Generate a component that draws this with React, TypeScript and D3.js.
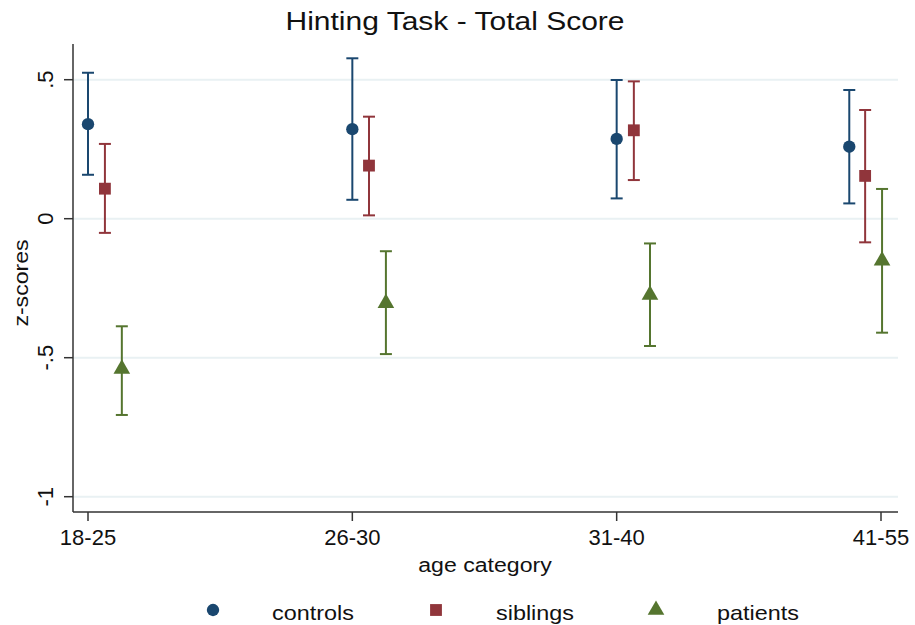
import React from "react";
import * as d3 from "d3";

const categories = ["18-25", "26-30", "31-40", "41-55"];
const seriesNames = ["controls", "siblings", "patients"];
// x positions in category units (1..4)
const controlsX = [1.0, 2.0, 3.0, 3.88];
const siblingsX = [1.064, 2.063, 3.065, 3.94];
const patientsX = [1.128, 2.127, 3.126, 4.004];
const controlsMean = [0.34, 0.322, 0.287, 0.259];
const controlsLo = [0.158, 0.068, 0.073, 0.055];
const controlsHi = [0.525, 0.577, 0.499, 0.463];
const siblingsMean = [0.108, 0.191, 0.318, 0.154];
const siblingsLo = [-0.051, 0.012, 0.139, -0.085];
const siblingsHi = [0.269, 0.367, 0.494, 0.391];
const patientsMean = [-0.54, -0.304, -0.274, -0.151];
const patientsLo = [-0.706, -0.487, -0.458, -0.41];
const patientsHi = [-0.387, -0.117, -0.089, 0.107];
const yTicks = [0.5, 0, -0.5, -1];
const yTickLabels = [".5", "0", "-.5", "-1"];

const colors = ["#1a476f", "#90353b", "#55752f"];
const FONT = "Liberation Sans, Arial, Helvetica, sans-serif";

function T({ x, y, size, sx = 1, rot = 0, anchor = "start", children }: any) {
  return (
    <text
      transform={`translate(${x},${y}) rotate(${rot}) scale(${sx},1)`}
      textAnchor={anchor}
      fontSize={size}
      fill="#111"
    >
      {children}
    </text>
  );
}

export default function App() {
  const W = 915, H = 625;
  const x = d3.scaleLinear().domain([1, 4]).range([88, 881]);
  const y = d3.scaleLinear().domain([0, 0.5]).range([218.7, 79.7]);
  const left = 73, right = 898, top = 44, bottom = 512;

  const series = [
    { xs: controlsX, m: controlsMean, lo: controlsLo, hi: controlsHi },
    { xs: siblingsX, m: siblingsMean, lo: siblingsLo, hi: siblingsHi },
    { xs: patientsX, m: patientsMean, lo: patientsLo, hi: patientsHi },
  ];
  const sym = [d3.symbolCircle, d3.symbolSquare, d3.symbolTriangle];
  const symSize = [120, 140, 120];

  const legendItems = [
    { mx: 213, tx: 272 },
    { mx: 436, tx: 496 },
    { mx: 656, tx: 717 },
  ];

  return (
    <svg width={W} height={H} style={{ position: "absolute", left: 0, top: 0, background: "#fff" }} fontFamily={FONT}>
      <rect x={0} y={0} width={W} height={H} fill="#fff" />
      <T x={455} y={30} size={25} sx={1.2} anchor="middle">Hinting Task - Total Score</T>
      {yTicks.map((t, i) => (
        <g key={i}>
          <line x1={left} x2={right} y1={y(t)} y2={y(t)} stroke="#e9f1f3" strokeWidth={2} />
          <line x1={left - 9} x2={left} y1={y(t)} y2={y(t)} stroke="#333" strokeWidth={1.5} />
          <T x={53} y={y(t)} size={22} rot={-90} anchor="middle">{yTickLabels[i]}</T>
        </g>
      ))}
      <line x1={left} x2={left} y1={top} y2={bottom} stroke="#333" strokeWidth={1.5} />
      <line x1={left} x2={right} y1={bottom} y2={bottom} stroke="#333" strokeWidth={1.5} />
      {categories.map((c, i) => (
        <g key={c}>
          <line x1={x(i + 1)} x2={x(i + 1)} y1={bottom} y2={bottom + 9} stroke="#333" strokeWidth={1.5} />
          <T x={x(i + 1)} y={545} size={22} anchor="middle">{c}</T>
        </g>
      ))}
      <T x={485} y={572} size={21} sx={1.1} anchor="middle">age category</T>
      <T x={28} y={283} size={21} sx={1.1} rot={-90} anchor="middle">z-scores</T>
      {series.map((s, si) => (
        <g key={si}>
          {s.m.map((m, i) => {
            const cx = x(s.xs[i]);
            return (
              <g key={i}>
                <line x1={cx} x2={cx} y1={y(s.lo[i])} y2={y(s.hi[i])} stroke={colors[si]} strokeWidth={2} />
                <line x1={cx - 6} x2={cx + 6} y1={y(s.lo[i])} y2={y(s.lo[i])} stroke={colors[si]} strokeWidth={2} />
                <line x1={cx - 6} x2={cx + 6} y1={y(s.hi[i])} y2={y(s.hi[i])} stroke={colors[si]} strokeWidth={2} />
                <path d={d3.symbol(sym[si], symSize[si])()!} transform={`translate(${cx},${y(m)})`} fill={colors[si]} />
              </g>
            );
          })}
        </g>
      ))}
      {legendItems.map((l, i) => (
        <g key={i}>
          <path d={d3.symbol(sym[i], symSize[i])()!} transform={`translate(${l.mx},${610})`} fill={colors[i]} />
          <T x={l.tx} y={620} size={20} sx={1.17}>{seriesNames[i]}</T>
        </g>
      ))}
    </svg>
  );
}
